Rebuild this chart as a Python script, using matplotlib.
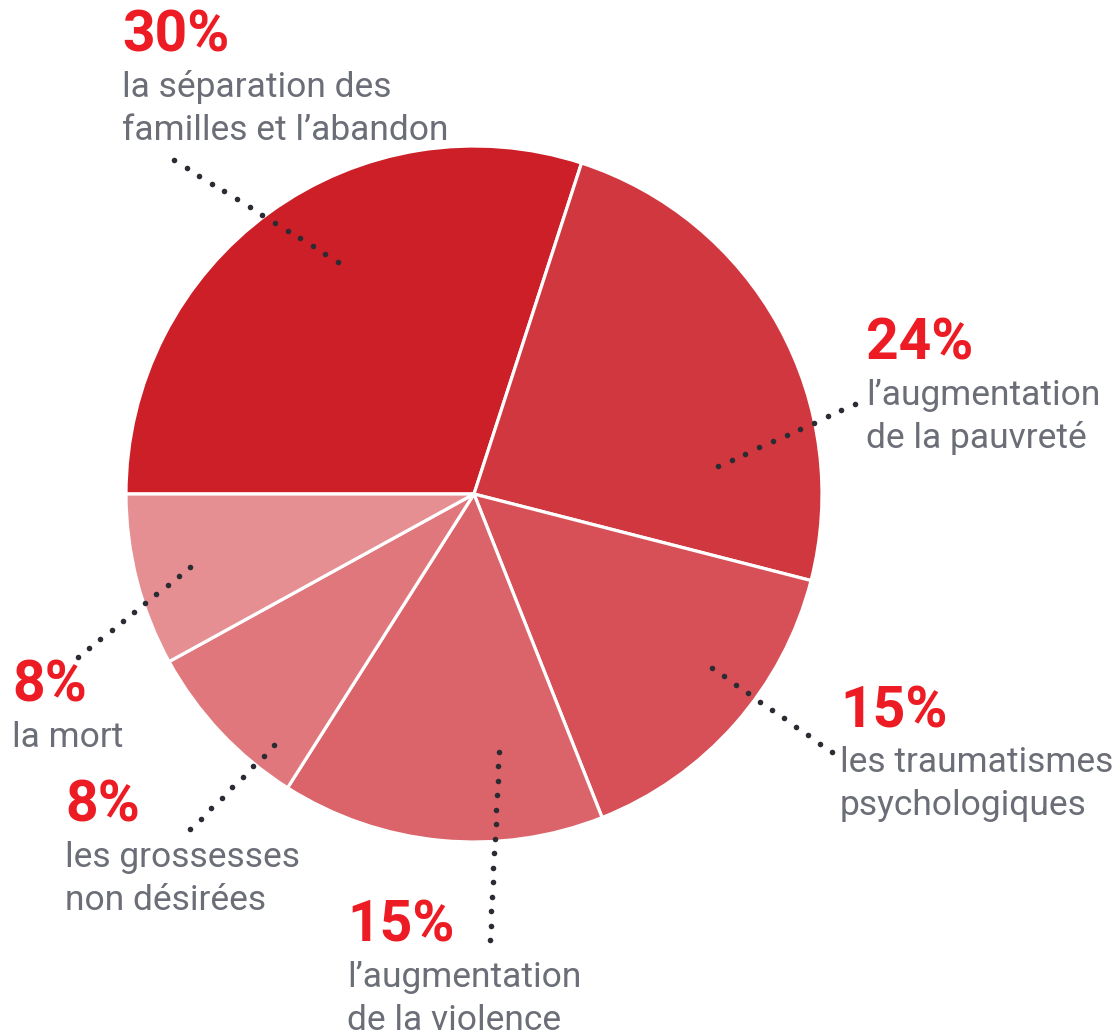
import matplotlib
matplotlib.use("Agg")
import numpy as np
import matplotlib.pyplot as plt

# données
shares = [30, 24, 15, 15, 8, 8]
pct_labels = ["30%", "24%", "15%", "15%", "8%", "8%"]
descriptions = [
    "la séparation des\nfamilles et l’abandon",
    "l’augmentation\nde la pauvreté",
    "les traumatismes\npsychologiques",
    "l’augmentation\nde la violence",
    "les grossesses\nnon désirées",
    "la mort",
]
colors = ["#CC1F28", "#D1373F", "#D75057", "#DB646A", "#E0777D", "#E58F93"]

# mise en page (pixels, origine en haut à gauche)
W, H = 1120, 1034
center = (474, 494)
radius = 348
label_pos = [(122, 52), (866, 360), (840, 727), (347, 942), (65, 822), (12, 702)]
leaders = [
    ((174, 160), (338, 262)),
    ((855, 404), (718, 466)),
    ((712, 668), (832, 752)),
    ((499, 752), (490, 940)),
    ((274, 745), (190, 829)),
    ((190, 567), (78, 657)),
]

RED = "#ED1C24"
GREY = "#6B6E77"
DOT = "#2B2B33"

fig = plt.figure(figsize=(W / 100, H / 100), dpi=100)
ax = fig.add_axes([0, 0, 1, 1])

ax.pie(shares, colors=colors, startangle=180, counterclock=False,
       center=(center[0], H - center[1]), radius=radius,
       wedgeprops=dict(edgecolor="white", linewidth=2.3))

# lignes pointillées : un point tous les ~14 px
for (p0, p1) in leaders:
    n = int(round(np.hypot(p1[0] - p0[0], p1[1] - p0[1]) / 14.5)) + 1
    xs = np.linspace(p0[0], p1[0], n)
    ys = H - np.linspace(p0[1], p1[1], n)
    ax.plot(xs, ys, "o", color=DOT, markersize=4.0, markeredgewidth=0,
            zorder=5)

for pct, desc, (x, y) in zip(pct_labels, descriptions, label_pos):
    ax.text(x, H - y, pct, color=RED, fontsize=41, fontweight="bold",
            family="Roboto", va="baseline", ha="left")
    for i, line in enumerate(desc.split("\n")):
        ax.text(x, H - (y + 45 + 43 * i), line, color=GREY, fontsize=25.5,
                family="Roboto", va="baseline", ha="left")

ax.set_xlim(0, W)
ax.set_ylim(0, H)
ax.set_aspect("equal")
ax.axis("off")

fig.savefig("out.png", dpi=100)
